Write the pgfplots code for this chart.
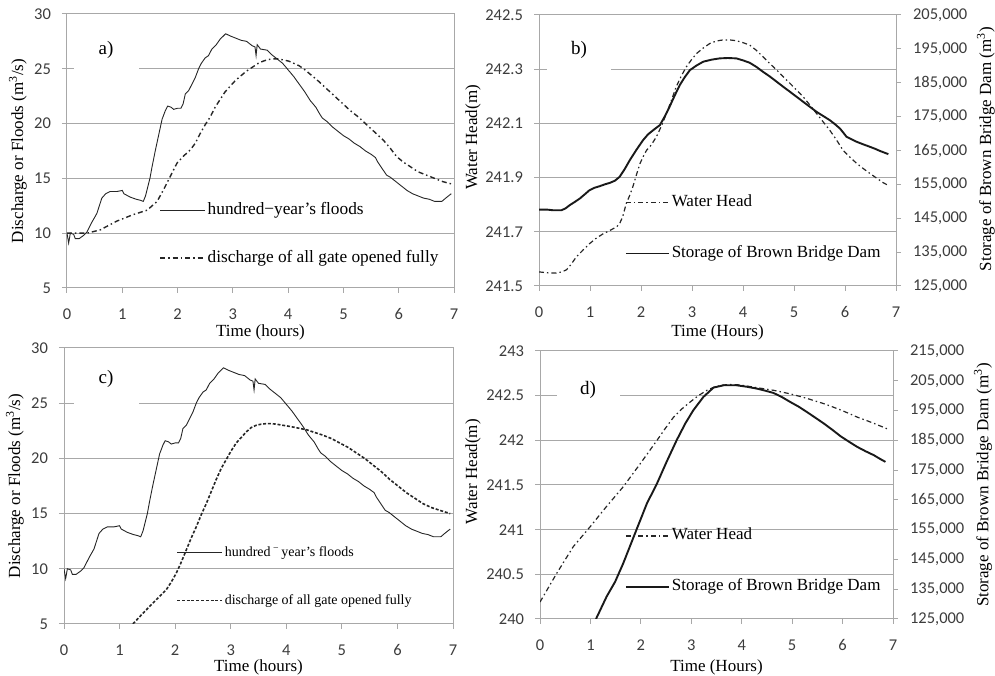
\documentclass[border=0pt]{standalone}
\usepackage{fontspec}
\setmainfont{Liberation Serif}
\newfontfamily\carlito{Carlito}
\usepackage{pgfplots}
\pgfplotsset{compat=1.18}
\definecolor{axgray}{RGB}{168,168,168}
\definecolor{tickcol}{RGB}{60,60,60}

\pgfplotstableread{
x y
0 10.0
0.03 9.1
0.06 10.0
0.12 9.9
0.15 9.5
0.22 9.5
0.3 9.8
0.36 10.1
0.45 11.0
0.54 11.8
0.63 13.2
0.7 13.6
0.78 13.8
0.9 13.8
1.0 13.9
1.03 13.6
1.14 13.3
1.25 13.1
1.33 13.0
1.38 12.9
1.42 13.4
1.46 14.2
1.5 15.0
1.54 16.1
1.6 17.6
1.66 19.0
1.72 20.4
1.78 21.2
1.82 21.6
1.88 21.5
1.93 21.3
2.0 21.4
2.06 21.4
2.1 21.8
2.14 22.7
2.2 23.0
2.26 23.6
2.32 24.2
2.38 25.0
2.43 25.5
2.5 26.0
2.56 26.2
2.62 26.8
2.7 27.2
2.77 27.7
2.83 28.0
2.87 28.2
2.95 28.0
3.05 27.8
3.15 27.6
3.25 27.5
3.35 27.1
3.40 27.0
3.42 26.2
3.44 27.2
3.5 26.8
3.62 26.7
3.7 26.3
3.8 25.9
3.9 25.5
4.0 24.9
4.1 24.3
4.2 23.6
4.3 22.9
4.4 22.1
4.5 21.5
4.58 20.8
4.62 20.5
4.7 20.2
4.8 19.7
4.9 19.3
5.0 18.9
5.1 18.6
5.2 18.2
5.3 17.9
5.4 17.5
5.5 17.2
5.58 16.9
5.62 16.5
5.7 15.9
5.78 15.3
5.85 15.1
5.95 14.7
6.05 14.3
6.15 13.9
6.25 13.6
6.35 13.4
6.45 13.2
6.55 13.1
6.65 12.9
6.72 12.9
6.78 12.9
6.85 13.2
6.95 13.6
}\floods

\pgfplotstableread{
x y
0 10.0
0.36 10.0
0.6 10.3
0.9 11.1
1.2 11.7
1.45 12.1
1.63 12.9
1.75 14.0
1.87 15.2
1.99 16.4
2.1 17.0
2.23 17.6
2.32 18.2
2.41 19.1
2.5 19.9
2.59 20.6
2.68 21.5
2.77 22.2
2.86 22.9
2.95 23.4
3.04 23.9
3.13 24.3
3.25 24.8
3.37 25.2
3.46 25.5
3.55 25.7
3.64 25.85
3.73 25.9
3.82 25.9
3.92 25.8
4.01 25.7
4.10 25.5
4.19 25.3
4.28 25.0
4.4 24.5
4.52 24.0
4.67 23.3
4.82 22.6
4.97 21.9
5.12 21.2
5.27 20.6
5.42 19.9
5.57 19.2
5.72 18.5
5.84 17.8
5.96 17.0
6.08 16.5
6.2 16.1
6.35 15.6
6.5 15.3
6.65 15.0
6.8 14.7
6.95 14.5
}\dischA

\pgfplotstableread{
x y
1.1 4.5
1.24 5.0
1.42 5.97
1.66 7.2
1.84 8.1
1.93 8.8
2.02 9.6
2.11 10.6
2.2 11.7
2.29 12.8
2.38 13.8
2.47 14.9
2.56 15.9
2.65 17.0
2.74 18.1
2.83 19.1
2.92 19.9
3.01 20.7
3.10 21.4
3.19 21.9
3.28 22.4
3.37 22.8
3.46 23.0
3.55 23.1
3.64 23.15
3.73 23.15
3.82 23.1
3.94 23.0
4.06 22.9
4.21 22.75
4.36 22.6
4.51 22.35
4.66 22.1
4.81 21.8
4.96 21.4
5.11 21.0
5.26 20.5
5.41 20.0
5.56 19.4
5.71 18.8
5.86 18.1
6.01 17.5
6.16 16.9
6.31 16.4
6.46 15.9
6.61 15.55
6.76 15.3
6.95 15.0
}\dischC

\pgfplotstableread{
x y
0 241.552
0.2 241.548
0.34 241.548
0.45 241.552
0.54 241.56
0.63 241.58
0.73 241.607
0.86 241.632
0.99 241.656
1.12 241.676
1.26 241.693
1.39 241.705
1.52 241.718
1.58 241.73
1.64 241.755
1.71 241.804
1.78 241.835
1.84 241.866
1.91 241.91
1.98 241.952
2.05 241.98
2.11 242.001
2.2 242.02
2.3 242.05
2.4 242.09
2.5 242.137
2.6 242.187
2.69 242.235
2.79 242.275
2.89 242.309
2.99 242.335
3.09 242.358
3.22 242.378
3.35 242.395
3.48 242.404
3.61 242.408
3.74 242.408
3.87 242.405
4.0 242.398
4.13 242.389
4.26 242.37
4.39 242.346
4.53 242.32
4.66 242.297
4.79 242.272
4.92 242.248
5.05 242.223
5.18 242.198
5.31 242.168
5.44 242.137
5.57 242.106
5.70 242.075
5.83 242.04
5.96 242.001
6.1 241.975
6.23 241.952
6.36 241.933
6.49 241.915
6.62 241.898
6.75 241.881
6.84 241.872
}\headB

\pgfplotstableread{
x y
0 147560
0.15 147560
0.27 147370
0.44 147370
0.52 147900
0.60 148840
0.70 149800
0.80 150820
0.90 152100
0.99 153280
1.09 154000
1.19 154460
1.29 155000
1.39 155450
1.49 156100
1.58 157220
1.68 159500
1.78 162140
1.91 165200
2.04 168050
2.14 169800
2.24 171010
2.3 171700
2.37 172490
2.46 174900
2.56 177910
2.66 181200
2.76 184310
2.86 186700
2.96 188740
3.09 190100
3.22 191210
3.38 191800
3.54 192190
3.7 192300
3.87 192190
4.0 191600
4.13 190910
4.26 189700
4.39 188250
4.53 186800
4.66 185300
4.79 183800
4.92 182340
5.05 180860
5.18 179380
5.31 177900
5.44 176430
5.57 175200
5.70 173970
5.80 172800
5.90 171500
5.97 170200
6.03 169040
6.13 168300
6.23 167560
6.36 166800
6.49 166080
6.59 165500
6.68 164900
6.85 163920
}\storB

\pgfplotstableread{
x y
0 240.19
0.33 240.51
0.66 240.81
0.99 241.03
1.32 241.26
1.65 241.48
1.99 241.74
2.32 242.0
2.48 242.13
2.65 242.26
2.81 242.35
2.98 242.43
3.14 242.50
3.31 242.56
3.47 242.60
3.64 242.62
3.80 242.625
3.97 242.62
4.13 242.605
4.30 242.59
4.46 242.575
4.63 242.56
4.80 242.54
4.96 242.52
5.13 242.495
5.29 242.47
5.46 242.44
5.63 242.41
5.80 242.375
5.96 242.34
6.13 242.30
6.29 242.26
6.46 242.225
6.62 242.19
6.75 242.16
6.88 242.13
}\headD

\pgfplotstableread{
x y
1.11 125000
1.32 132490
1.49 137520
1.65 143670
1.91 154850
2.12 163800
2.32 170500
2.51 177770
2.71 185040
2.88 190630
3.04 195100
3.24 199570
3.44 202700
3.64 203480
3.77 203500
3.90 203480
4.10 203000
4.30 202370
4.46 201700
4.63 200910
4.80 199500
4.96 197900
5.13 196300
5.29 194540
5.46 192600
5.63 190630
5.80 188500
5.96 186380
6.13 184500
6.29 182800
6.46 181300
6.62 180010
6.75 178700
6.85 177770
}\storD

\pgfplotsset{
  base/.style={
    scale only axis, anchor=south west,
    xmin=0, xmax=7, xtick={0,...,7},
    axis line style={axgray, line width=1pt},
    tick style={axgray, line width=1pt},
    tick align=outside, major tick length=5pt,
    xtick pos=left, ytick pos=left,
    ymajorgrids, grid style={axgray, line width=1pt},
    scaled y ticks=false,
    /pgf/number format/assume math mode=true,
    ticklabel style={font=\carlito\fontsize{16.5}{18}\selectfont, text=tickcol},
    xticklabel style={yshift=-12pt},
    yticklabel style={xshift=-7.5pt},
    label style={font=\fontsize{17}{20}\selectfont},
    legend style={draw=none, fill=none, inner sep=0pt, font=\fontsize{17.3}{20}\selectfont,
      nodes={inner sep=2pt, text height=12pt, text depth=4pt}, row sep=28pt},
    legend cell align=left,
    legend image code/.code={\draw[##1] (0pt,0pt) -- (45pt,0pt);},
  },
  rightax/.style={
    scale only axis, anchor=south west,
    xmin=0, xmax=7, axis x line=none, axis y line*=right,
    axis line style={axgray, line width=1pt},
    tick style={axgray, line width=1pt},
    tick align=outside, major tick length=5pt,
    scaled y ticks=false,
    ymin=125000,
    /pgf/number format/assume math mode=true,
    ticklabel style={font=\carlito\fontsize{16.5}{18}\selectfont, text=tickcol},
    yticklabel style={xshift=8.5pt},
    yticklabel={\pgfmathprintnumber[fixed,precision=0,1000 sep={,}]{\tick}},
    label style={font=\fontsize{17}{20}\selectfont},
    legend style={draw=none, fill=none, inner sep=0pt, font=\fontsize{17}{20}\selectfont,
      nodes={inner sep=2pt, text height=12pt, text depth=4pt}, row sep=31pt},
    legend cell align=left,
    legend image code/.code={\draw[##1] (0pt,0pt) -- (43pt,0pt);},
  },
  floodline/.style={black!85, line width=0.9pt},
  dashdotA/.style={black!85, line width=1.4pt, dash pattern=on 5pt off 3pt on 1.5pt off 3pt},
  dashC/.style={black!85, line width=1.6pt, dash pattern=on 3pt off 1.8pt},
  headline/.style={black!85, line width=1.2pt, dash pattern=on 5pt off 3pt on 1.5pt off 3pt},
  storline/.style={black!90, line width=1.9pt},
}

\begin{document}
\begin{tikzpicture}[x=1pt,y=1pt]
\useasboundingbox (0,0) rectangle (995,676);

% ---------- a) ----------
\begin{axis}[base, at={(67pt,388pt)}, width=387pt, height=274pt,
  ymin=5, ymax=30, ytick={5,10,...,30},
  xlabel={Time (hours)}, ylabel={Discharge or Floods (m\textsuperscript{3}/s)},
  xlabel style={at={(axis description cs:0.5,-0.161)}, anchor=center},
  ylabel style={at={(axis description cs:-0.127,0.5)}, anchor=center},
  legend style={at={(axis description cs:0.238,0.197)}, anchor=west}]
\addplot[floodline] table {\floods};
\addlegendentry{hundred−year's floods}
\addplot[dashdotA] table {\dischA};
\addlegendentry{discharge of all gate opened fully}
\end{axis}

% ---------- b) ----------
\begin{axis}[base, at={(539pt,390pt)}, width=357pt, height=271pt,
  ymin=241.5, ymax=242.5, ytick={241.5,241.7,241.9,242.1,242.3,242.5},
  yticklabel={\pgfmathprintnumber[fixed,precision=1,fixed zerofill]{\tick}},
  xlabel={Time (Hours)}, ylabel={Water Head(m)},
  xlabel style={at={(axis description cs:0.5,-0.170)}, anchor=center},
  ylabel style={at={(axis description cs:-0.185,0.548)}, anchor=center}]
\addplot[headline] table {\headB};
\end{axis}
\begin{axis}[rightax, at={(539pt,390pt)}, width=357pt, height=271pt,
  ymax=205000, ytick={125000,135000,...,205000},
  ylabel={Storage of Brown Bridge Dam (m\textsuperscript{3})},
  ylabel style={at={(axis description cs:1.252,0.505)}, anchor=center},
  legend style={at={(axis description cs:0.240,0.214)}, anchor=west}]
\addlegendimage{headline}
\addlegendentry{Water Head}
\addplot[storline] table {\storB};
\addlegendentry{Storage of Brown Bridge Dam}
\end{axis}

% ---------- c) ----------
\begin{axis}[base, at={(64pt,52pt)}, width=389pt, height=276pt,
  ymin=5, ymax=30, ytick={5,10,...,30},
  xlabel={Time (hours)}, ylabel={Discharge or Floods (m\textsuperscript{3}/s)},
  xlabel style={at={(axis description cs:0.5,-0.156)}, anchor=center},
  ylabel style={at={(axis description cs:-0.126,0.5)}, anchor=center},
  legend style={at={(axis description cs:0.288,0.172)}, anchor=west,
    font=\fontsize{14}{16}\selectfont}]
\addplot[floodline] table {\floods};
\addlegendentry{hundred\,\textsuperscript{−}\,year's floods}
\addplot[dashC] table {\dischC};
\addlegendentry{discharge of all gate opened fully}
\end{axis}

% ---------- d) ----------
\begin{axis}[base, at={(540pt,57pt)}, width=353pt, height=268pt,
  ymin=240, ymax=243, ytick={240,240.5,...,243},
  yticklabel={\pgfmathprintnumber[fixed,precision=1]{\tick}},
  xlabel={Time (Hours)}, ylabel={Water Head(m)},
  xlabel style={at={(axis description cs:0.5,-0.179)}, anchor=center},
  ylabel style={at={(axis description cs:-0.19,0.55)}, anchor=center}]
\addplot[headline] table {\headD};
\end{axis}
\begin{axis}[rightax, at={(540pt,57pt)}, width=353pt, height=268pt,
  ymax=215000, ytick={125000,135000,...,215000},
  ylabel={Storage of Brown Bridge Dam (m\textsuperscript{3})},
  ylabel style={at={(axis description cs:1.255,0.5)}, anchor=center},
  legend style={at={(axis description cs:0.240,0.2146)}, anchor=west}]
\addlegendimage{headline}
\addlegendentry{Water Head}
\addplot[storline] table {\storD};
\addlegendentry{Storage of Brown Bridge Dam}
\end{axis}

% panel letters
\node[fill=white, minimum width=65pt, minimum height=56pt, font=\fontsize{19}{22}\selectfont] at (106,626) {a)};
\node[fill=white, minimum width=64pt, minimum height=56pt, font=\fontsize{19}{22}\selectfont] at (579,626) {b)};
\node[fill=white, minimum width=65pt, minimum height=56pt, font=\fontsize{19}{22}\selectfont] at (106,297) {c)};
\node[fill=white, minimum width=63pt, minimum height=56pt, font=\fontsize{19}{22}\selectfont] at (588,286) {d)};
\end{tikzpicture}
\end{document}
